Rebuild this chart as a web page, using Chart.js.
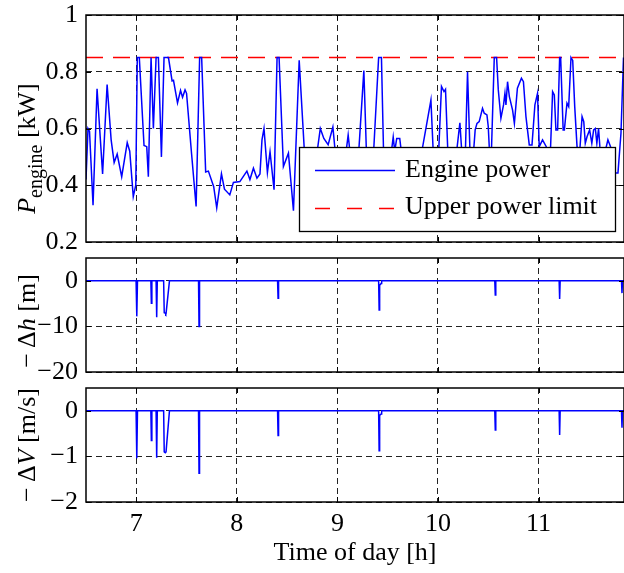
<!DOCTYPE html>
<html>
<head>
<meta charset="utf-8">
<script src="https://cdn.jsdelivr.net/npm/chart.js@4.4.0/dist/chart.umd.min.js"></script>
<style>
  html, body { margin: 0; padding: 0; background: #fff; }
  #wrap { position: relative; width: 624px; height: 573px; }
  canvas { position: absolute; left: 0; }
</style>
</head>
<body>
<div id="wrap">
  <canvas id="cPower" width="624" height="250" style="top:0px"></canvas>
  <canvas id="cHeight" width="624" height="130" style="top:250px"></canvas>
  <canvas id="cSpeed" width="624" height="193" style="top:380px"></canvas>
</div>
<script>
// engine power trace (hours, kW)
const powerTimes = [6.50, 6.52, 6.535, 6.57, 6.61, 6.665, 6.71, 6.75, 6.78, 6.81, 6.855, 6.91, 6.935, 6.97, 6.995,
  7.01, 7.03, 7.077, 7.104, 7.12, 7.147, 7.17, 7.197, 7.22, 7.25, 7.276, 7.32, 7.356, 7.37, 7.41, 7.44, 7.46, 7.485,
  7.50, 7.55, 7.595, 7.63, 7.65, 7.69, 7.717, 7.77, 7.80, 7.847, 7.877, 7.93, 7.966, 8.03, 8.10, 8.13, 8.165, 8.20,
  8.23, 8.25, 8.27, 8.304, 8.33, 8.37, 8.40, 8.42, 8.463, 8.513, 8.563, 8.62, 8.67, 8.72, 8.78, 8.83, 8.865, 8.908,
  8.955, 8.975, 9.03, 9.08, 9.107, 9.13, 9.20, 9.263, 9.29, 9.35, 9.41, 9.438, 9.46, 9.52, 9.555, 9.57, 9.59, 9.62,
  9.635, 9.72, 9.82, 9.93, 9.955, 10.00, 10.035, 10.06, 10.075, 10.10, 10.17, 10.218, 10.24, 10.27, 10.294, 10.32,
  10.35, 10.37, 10.388, 10.41, 10.443, 10.46, 10.487, 10.50, 10.51, 10.53, 10.56, 10.583, 10.60, 10.626, 10.652,
  10.666, 10.676, 10.692, 10.71, 10.742, 10.76, 10.79, 10.83, 10.85, 10.875, 10.908, 10.935, 10.964, 10.99, 11.007,
  11.04, 11.077, 11.10, 11.12, 11.14, 11.157, 11.173, 11.19, 11.21, 11.22, 11.245, 11.257, 11.283, 11.30, 11.323,
  11.34, 11.36, 11.383, 11.41, 11.433, 11.45, 11.465, 11.483, 11.508, 11.53, 11.548, 11.565, 11.58, 11.597, 11.61,
  11.65, 11.69, 11.716, 11.74, 11.765, 11.79, 11.82, 11.845];
const powerValues = [0.42, 0.60, 0.59, 0.33, 0.74, 0.44, 0.755, 0.56, 0.48, 0.51, 0.43, 0.55, 0.52, 0.36, 0.40,
  0.85, 0.85, 0.54, 0.536, 0.43, 0.85, 0.60, 0.85, 0.85, 0.50, 0.85, 0.85, 0.768, 0.77, 0.69, 0.734, 0.71, 0.736,
  0.724, 0.51, 0.325, 0.85, 0.85, 0.447, 0.45, 0.395, 0.32, 0.44, 0.386, 0.366, 0.41, 0.413, 0.45, 0.42, 0.46, 0.425,
  0.44, 0.56, 0.60, 0.445, 0.518, 0.384, 0.85, 0.85, 0.466, 0.513, 0.31, 0.84, 0.53, 0.44, 0.47, 0.60, 0.565, 0.543,
  0.605, 0.53, 0.45, 0.50, 0.577, 0.50, 0.45, 0.804, 0.50, 0.45, 0.85, 0.85, 0.50, 0.47, 0.57, 0.52, 0.565, 0.565,
  0.52, 0.46, 0.48, 0.70, 0.50, 0.46, 0.748, 0.73, 0.738, 0.50, 0.47, 0.62, 0.50, 0.48, 0.80, 0.50,
  0.50, 0.595, 0.618, 0.624, 0.671, 0.654, 0.648, 0.607, 0.536, 0.50, 0.85, 0.85, 0.736, 0.636, 0.683,
  0.724, 0.683, 0.765, 0.712, 0.665, 0.618, 0.742, 0.777, 0.765, 0.642, 0.542, 0.542, 0.683, 0.724, 0.536,
  0.56, 0.536, 0.50, 0.536, 0.73, 0.718, 0.595, 0.595, 0.85, 0.85, 0.595, 0.595, 0.689, 0.677, 0.85,
  0.84, 0.677, 0.536, 0.52, 0.642, 0.624, 0.548, 0.572, 0.595, 0.548, 0.595, 0.60, 0.548, 0.60, 0.536,
  0.50, 0.56, 0.536, 0.46, 0.443, 0.443, 0.584, 0.85];

const limitTimes = [6.5, 11.85];
const limitValues = [0.85, 0.85];

// height / speed deviations are zero except for short dips
const spikeTimes = [6.5, 6.998, 7.005, 7.012, 7.145, 7.15, 7.155, 7.197, 7.203, 7.209, 7.272, 7.278, 7.288, 7.293,
  7.296, 7.33, 7.619, 7.624, 7.629, 8.405, 8.41, 8.415, 9.41, 9.415, 9.42, 9.435, 9.44, 10.565, 10.57, 10.575,
  11.205, 11.21, 11.215, 11.825, 11.83, 11.835, 11.85];
const heightDrop = [0, 0, -7.8, 0, 0, -4.9, 0, 0, -8.0, 0, 0, -7.0, -7.1, -7.3,
  -7.2, 0, 0, -10.0, 0, 0, -3.8, 0, 0, -6.4, -1.0, -0.6, 0, 0, -3.1, 0,
  0, -4.0, 0, 0, -2.7, 0, 0];
const speedDrop = [0, 0, -1.04, 0, 0, -0.65, 0, 0, -1.03, 0, 0, -0.90, -0.92, -0.92,
  -0.90, 0, 0, -1.37, 0, 0, -0.54, 0, 0, -0.876, -0.1, -0.07, 0, 0, -0.42, 0,
  0, -0.53, 0, 0, -0.37, 0, 0];

const hourTicks = [7, 8, 9, 10, 11];
const powerTicks = [0.2, 0.4, 0.6, 0.8, 1];
const heightTicks = [-20, -10, 0];
const speedTicks = [-2, -1, 0];

const SERIF = "'Liberation Serif', 'Times New Roman', serif";
const X_MIN = 6.5, X_MAX = 11.85;

function pts(xs, ys) {
  return xs.map((x, i) => ({ x: x, y: ys[i] }));
}

function fmt(v) {
  return String(v).replace('-', '\u2212');
}

// rotated label made of pieces with their own font / offset
function drawRich(ctx, cx, cy, parts, vertical) {
  ctx.save();
  ctx.translate(cx, cy);
  if (vertical) ctx.rotate(-Math.PI / 2);
  ctx.fillStyle = '#000';
  ctx.textBaseline = 'alphabetic';
  let total = 0;
  parts.forEach(p => { ctx.font = p.font; p.w = ctx.measureText(p.t).width; total += p.w; });
  let x = -total / 2;
  parts.forEach(p => {
    ctx.font = p.font;
    ctx.fillText(p.t, x, 9 + (p.dy || 0));
    x += p.w;
  });
  ctx.restore();
}

const framePlugin = {
  id: 'frame',
  afterDraw(chart) {
    const ctx = chart.ctx;
    const a = chart.chartArea;
    ctx.save();
    ctx.strokeStyle = '#000';
    ctx.lineWidth = 1.5;
    ctx.strokeRect(a.left, a.top, a.right - a.left, a.bottom - a.top);
    ctx.lineWidth = 1;
    ctx.beginPath();
    hourTicks.forEach(v => {
      const px = Math.round(chart.scales.x.getPixelForValue(v)) + 0.5;
      ctx.moveTo(px, a.bottom); ctx.lineTo(px, a.bottom - 5);
      ctx.moveTo(px, a.top); ctx.lineTo(px, a.top + 5);
    });
    chart.scales.y.ticks.forEach(t => {
      const py = Math.round(chart.scales.y.getPixelForValue(t.value)) + 0.5;
      ctx.moveTo(a.left, py); ctx.lineTo(a.left + 5, py);
      ctx.moveTo(a.right, py); ctx.lineTo(a.right - 5, py);
    });
    ctx.stroke();
    const lbl = chart.options.plugins.frame;
    if (lbl && lbl.yTitle) drawRich(ctx, 26, (a.top + a.bottom) / 2 + (lbl.yShift || 0), lbl.yTitle, true);
    if (lbl && lbl.xTitle) drawRich(ctx, (a.left + a.right) / 2, 171, lbl.xTitle, false);
    ctx.restore();
  }
};

const legendPlugin = {
  id: 'boxLegend',
  afterDatasetsDraw(chart) {
    const ctx = chart.ctx;
    ctx.save();
    ctx.fillStyle = '#fff';
    ctx.fillRect(299.5, 147.5, 316, 84);
    ctx.strokeStyle = '#000';
    ctx.lineWidth = 1.3;
    ctx.strokeRect(299.5, 147.5, 316, 84);
    ctx.lineWidth = 1.5;
    ctx.strokeStyle = '#0000ff';
    ctx.beginPath(); ctx.moveTo(315, 170.5); ctx.lineTo(395, 170.5); ctx.stroke();
    ctx.strokeStyle = '#ff0000';
    ctx.setLineDash([15, 17]);
    ctx.beginPath(); ctx.moveTo(315, 208.5); ctx.lineTo(395, 208.5); ctx.stroke();
    ctx.setLineDash([]);
    ctx.fillStyle = '#000';
    ctx.font = '26px ' + SERIF;
    ctx.textBaseline = 'alphabetic';
    ctx.fillText('Engine power', 405, 177);
    ctx.fillText('Upper power limit', 405, 214);
    ctx.restore();
  }
};

function panel(id, datasets, o) {
  const font = { family: SERIF, size: 26 };
  return new Chart(document.getElementById(id), {
    type: 'line',
    data: { datasets: datasets },
    options: {
      responsive: false,
      animation: false,
      devicePixelRatio: 1,
      layout: { padding: { top: o.top, left: 0, right: 0, bottom: 0 } },
      elements: { point: { radius: 0 }, line: { tension: 0 } },
      plugins: {
        legend: { display: false },
        tooltip: { enabled: false },
        frame: { yTitle: o.yTitle, yShift: o.yShift, xTitle: o.xTitle }
      },
      scales: {
        x: {
          type: 'linear', min: X_MIN, max: X_MAX,
          afterBuildTicks: s => { s.ticks = hourTicks.map(v => ({ value: v })); },
          afterFit: s => { s.height = o.xHeight; s.paddingLeft = 0; s.paddingRight = 0; },
          grid: { color: '#222', lineWidth: 1, drawTicks: false },
          border: { display: false, dash: [6, 4] },
          ticks: { display: o.xLabels, padding: 7, font: font, color: '#000', maxRotation: 0, autoSkip: false }
        },
        y: {
          min: o.yMin, max: o.yMax,
          afterBuildTicks: s => { s.ticks = o.yTicks.map(v => ({ value: v })); },
          afterFit: s => { s.width = 86; s.paddingTop = 0; s.paddingBottom = 0; },
          grid: { color: '#222', lineWidth: 1, drawTicks: false },
          border: { display: false, dash: [6, 4] },
          ticks: { padding: 8, font: font, color: '#000', callback: v => fmt(v) }
        }
      }
    },
    plugins: o.plugins
  });
}

const R = '26px ' + SERIF, I = 'italic 26px ' + SERIF;

panel('cPower', [
  { label: 'Engine power', data: pts(powerTimes, powerValues), borderColor: '#0000ff', borderWidth: 1.5 },
  { label: 'Upper power limit', data: pts(limitTimes, limitValues), borderColor: '#ff0000', borderWidth: 1.4, borderDash: [17, 10] }
], {
  top: 15, xHeight: 8, xLabels: false, yMin: 0.2, yMax: 1, yTicks: powerTicks, yShift: 20,
  yTitle: [{ t: 'P', font: I }, { t: 'engine', font: '20px ' + SERIF, dy: 7 }, { t: ' [kW]', font: R }],
  plugins: [legendPlugin, framePlugin]
});

panel('cHeight', [
  { data: pts(spikeTimes, heightDrop), borderColor: '#0000ff', borderWidth: 1.5 }
], {
  top: 8, xHeight: 8, xLabels: false, yMin: -20, yMax: 5, yTicks: heightTicks, yShift: 6,
  yTitle: [{ t: '\u2212\u2009\u0394', font: R }, { t: 'h', font: I }, { t: ' [m]', font: R }],
  plugins: [framePlugin]
});

panel('cSpeed', [
  { data: pts(spikeTimes, speedDrop), borderColor: '#0000ff', borderWidth: 1.5 }
], {
  top: 8, xHeight: 71, xLabels: true, yMin: -2, yMax: 0.5, yTicks: speedTicks, yShift: 0,
  yTitle: [{ t: '\u2212\u2009\u0394', font: R }, { t: 'V', font: I }, { t: ' [m/s]', font: R }],
  xTitle: [{ t: 'Time of day [h]', font: R }],
  plugins: [framePlugin]
});
</script>
</body>
</html>
